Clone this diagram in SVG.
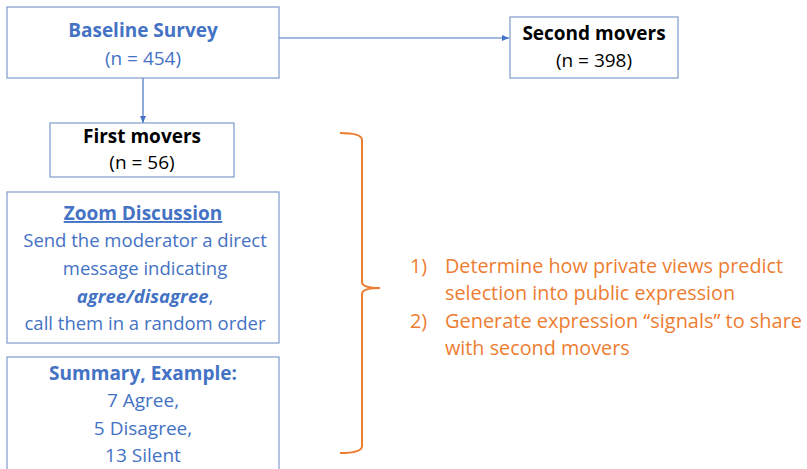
<svg xmlns="http://www.w3.org/2000/svg" width="807" height="469" viewBox="0 0 807 469">
  <style>
    .box { fill: #ffffff; stroke: #7f9bcc; stroke-width: 1.2; }
    .blue { fill: #4472c4; }
    .black { fill: #000000; }
    .orange { fill: #ed7d31; font-size: 19.8px; text-anchor: start; }
    text { font-family: "Open Sans", "Liberation Sans", sans-serif; font-size: 19px; text-anchor: middle; }
    .b { font-weight: bold; }
    .sm { font-size: 18.5px; }
    .conn { stroke: #4472c4; stroke-width: 1.2; fill: none; }
    .brace { stroke: #ed7d31; stroke-width: 2; fill: none; }
  </style>
  <defs>
    <marker id="arrow" markerWidth="8" markerHeight="8" refX="7" refY="4" orient="auto" markerUnits="userSpaceOnUse">
      <path d="M0,1 L7,4 L0,7 Z" fill="#4472c4"/>
    </marker>
  </defs>

  <g id="connectors">
    <line class="conn" x1="279" y1="38" x2="509" y2="38" marker-end="url(#arrow)"/>
    <line class="conn" x1="143" y1="78" x2="143" y2="123" marker-end="url(#arrow)"/>
  </g>

  <g id="baseline-survey">
    <rect class="box" x="7" y="7" width="272" height="71"/>
    <text class="blue b" x="143" y="37">Baseline Survey</text>
    <text class="blue" x="143" y="65">(n = 454)</text>
  </g>

  <g id="second-movers">
    <rect class="box" x="510" y="17" width="168" height="61"/>
    <text class="black b" x="594" y="40">Second movers</text>
    <text class="black" x="594" y="67">(n = 398)</text>
  </g>

  <g id="first-movers">
    <rect class="box" x="50" y="123" width="184" height="54"/>
    <text class="black b" x="142" y="143">First movers</text>
    <text class="black" x="142" y="169">(n = 56)</text>
  </g>

  <g id="zoom-discussion">
    <rect class="box" x="7" y="192" width="272" height="151"/>
    <text class="blue b" x="143" y="220" text-decoration="underline">Zoom Discussion</text>
    <text class="blue sm" x="145" y="247">Send the moderator a direct</text>
    <text class="blue sm" x="145" y="275">message indicating</text>
    <text class="blue sm" x="145" y="303"><tspan class="b" font-style="italic">agree/disagree</tspan>,</text>
    <text class="blue sm" x="145" y="330">call them in a random order</text>
  </g>

  <g id="summary-example">
    <rect class="box" x="7" y="357" width="272" height="120"/>
    <text class="blue b" x="143" y="380">Summary, Example:</text>
    <text class="blue" x="143" y="407">7 Agree,</text>
    <text class="blue" x="143" y="435">5 Disagree,</text>
    <text class="blue" x="143" y="462">13 Silent</text>
  </g>

  <g id="goals">
    <path class="brace" d="M340,133 Q362,133 362,140 L362,282 Q362,288 380,288 Q362,288 362,294 L362,446 Q362,453 340,453"/>
    <text class="orange" x="410" y="273">1)</text>
    <text class="orange" x="445" y="273">Determine how private views predict</text>
    <text class="orange" x="445" y="300">selection into public expression</text>
    <text class="orange" x="410" y="328">2)</text>
    <text class="orange" x="445" y="328" textLength="357" lengthAdjust="spacingAndGlyphs">Generate expression “signals” to share</text>
    <text class="orange" x="445" y="355">with second movers</text>
  </g>
</svg>
